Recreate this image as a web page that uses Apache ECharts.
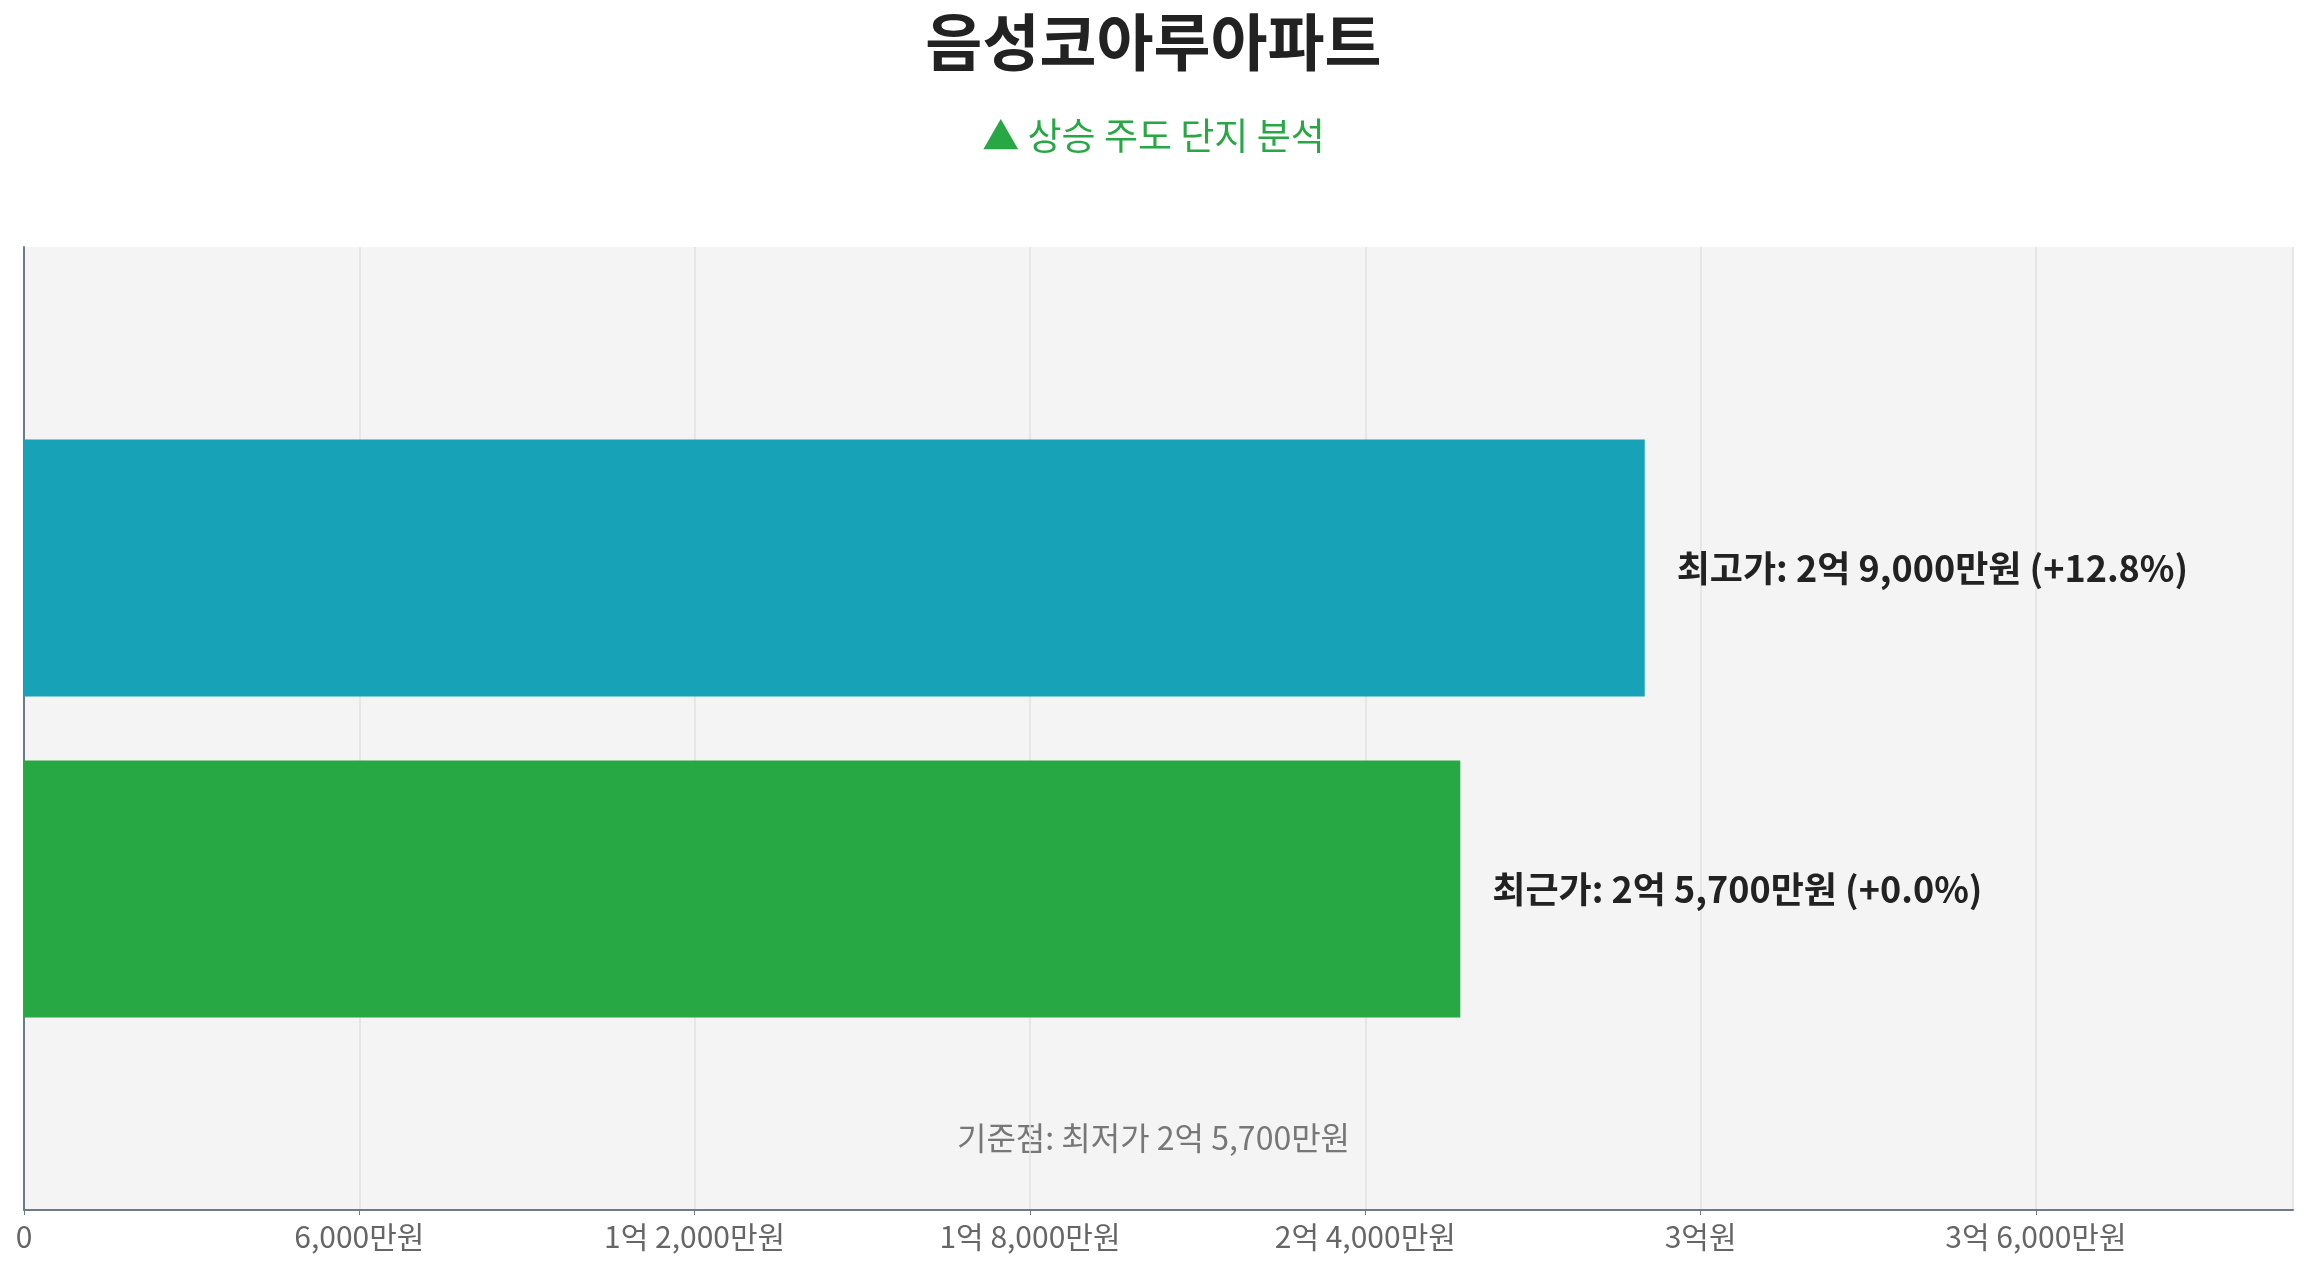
<!DOCTYPE html>
<html><head><meta charset="utf-8">
<script src="https://cdn.jsdelivr.net/npm/echarts@6/dist/echarts.min.js"></script>
<style>html,body{margin:0;padding:0;background:#fff}#c{width:2307px;height:1268px}</style>
</head><body><div id="c"></div>
<script>
const categories = ['가격'];
const seriesNames = ['최고가', '최근가'];
const highValues = [290000000];
const recentValues = [257000000];
const changePct = ['+12.8%', '+0.0%'];
const baseLabel = '기준점: 최저가 2억 5,700만원';

function fmt(v){
  if (v === 0) return '0';
  const eok = Math.floor(v / 100000000);
  const man = Math.round((v % 100000000) / 10000);
  const manStr = man.toLocaleString('en-US');
  if (eok > 0 && man > 0) return eok + '억 ' + manStr + '만원';
  if (eok > 0) return eok + '억원';
  return manStr + '만원';
}
const font = '"Noto Sans CJK KR", "Noto Sans", sans-serif';
const lbl = (i) => ({show: true, position: 'right', distance: 32, fontFamily: font, fontSize: 36, fontWeight: 'bold', color: '#222',
  formatter: p => seriesNames[i] + ': ' + fmt(p.value) + ' (' + changePct[i] + ')'});
const chart = echarts.init(document.getElementById('c'));
chart.setOption({
  backgroundColor: '#fff',
  title: {
    text: '음성코아루아파트', subtext: '▲ 상승 주도 단지 분석', left: 'center', top: 6, itemGap: 44,
    textStyle: {fontFamily: font, fontSize: 62, fontWeight: 'bold', color: '#222'},
    subtextStyle: {fontFamily: font, fontSize: 37, color: '#28a745'}
  },
  grid: {left: 24, right: 14, top: 247, bottom: 58, show: true, backgroundColor: '#f4f4f4', borderWidth: 0},
  xAxis: {
    type: 'value', min: 0, max: 406000000, interval: 60000000,
    axisLine: {show: true, lineStyle: {color: '#6c7a89', width: 2}},
    axisTick: {show: true, lineStyle: {color: '#6c7a89'}},
    axisLabel: {formatter: fmt, fontFamily: font, fontSize: 30, color: '#666', margin: 12, showMaxLabel: false},
    splitLine: {show: true, lineStyle: {color: '#e2e2e2', width: 1.5}}
  },
  yAxis: {
    type: 'category', data: categories, inverse: true,
    axisLine: {show: true, lineStyle: {color: '#6c7a89', width: 2}},
    axisTick: {show: false}, axisLabel: {show: false}
  },
  series: [
    {name: seriesNames[0], type: 'bar', data: highValues, itemStyle: {color: '#17a2b8'},
     barGap: '25%', barCategoryGap: '40%', label: lbl(0)},
    {name: seriesNames[1], type: 'bar', data: recentValues, itemStyle: {color: '#28a745'},
     barGap: '25%', barCategoryGap: '40%', label: lbl(1)}
  ],
  graphic: [{type: 'text', left: 'center', top: 1122,
    style: {text: baseLabel, fontFamily: font, fontSize: 32, fill: '#777'}}]
});
</script></body></html>
